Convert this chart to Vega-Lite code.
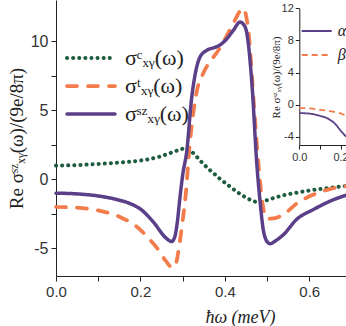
{
  "$schema": "https://vega.github.io/schema/vega-lite/v6.json",
  "width": 290,
  "height": 276,
  "autosize": "none",
  "padding": {"left": 56, "top": 0, "right": 0, "bottom": 50},
  "background": "white",
  "config": {
    "view": {"stroke": null},
    "axis": {"grid": false, "domainColor": "#222", "tickColor": "#222", "labelColor": "#333", "labelFont": "Liberation Sans", "titleColor": "#222", "titleFontWeight": "normal", "titleFont": "Liberation Serif"}
  },
  "datasets": {
    "main": [
      {"x": 0, "y": 1.0, "s": "σᶜₓᵧ(ω)"}, {"x": 0.05, "y": 1.04, "s": "σᶜₓᵧ(ω)"}, {"x": 0.1, "y": 1.12, "s": "σᶜₓᵧ(ω)"}, {"x": 0.15, "y": 1.22, "s": "σᶜₓᵧ(ω)"}, {"x": 0.2, "y": 1.37, "s": "σᶜₓᵧ(ω)"}, {"x": 0.24, "y": 1.6, "s": "σᶜₓᵧ(ω)"}, {"x": 0.27, "y": 1.9, "s": "σᶜₓᵧ(ω)"}, {"x": 0.29, "y": 2.12, "s": "σᶜₓᵧ(ω)"}, {"x": 0.305, "y": 2.24, "s": "σᶜₓᵧ(ω)"}, {"x": 0.318, "y": 2.1, "s": "σᶜₓᵧ(ω)"}, {"x": 0.33, "y": 1.75, "s": "σᶜₓᵧ(ω)"}, {"x": 0.345, "y": 1.25, "s": "σᶜₓᵧ(ω)"}, {"x": 0.36, "y": 0.8, "s": "σᶜₓᵧ(ω)"}, {"x": 0.375, "y": 0.4, "s": "σᶜₓᵧ(ω)"}, {"x": 0.39, "y": 0.0, "s": "σᶜₓᵧ(ω)"}, {"x": 0.405, "y": -0.35, "s": "σᶜₓᵧ(ω)"}, {"x": 0.42, "y": -0.7, "s": "σᶜₓᵧ(ω)"}, {"x": 0.436, "y": -1.05, "s": "σᶜₓᵧ(ω)"}, {"x": 0.455, "y": -1.4, "s": "σᶜₓᵧ(ω)"}, {"x": 0.47, "y": -1.6, "s": "σᶜₓᵧ(ω)"}, {"x": 0.48, "y": -1.66, "s": "σᶜₓᵧ(ω)"}, {"x": 0.49, "y": -1.6, "s": "σᶜₓᵧ(ω)"}, {"x": 0.505, "y": -1.45, "s": "σᶜₓᵧ(ω)"}, {"x": 0.53, "y": -1.22, "s": "σᶜₓᵧ(ω)"}, {"x": 0.57, "y": -0.96, "s": "σᶜₓᵧ(ω)"}, {"x": 0.61, "y": -0.76, "s": "σᶜₓᵧ(ω)"}, {"x": 0.65, "y": -0.6, "s": "σᶜₓᵧ(ω)"}, {"x": 0.687, "y": -0.48, "s": "σᶜₓᵧ(ω)"},
      {"x": 0, "y": -2.0, "s": "σᵗₓᵧ(ω)"}, {"x": 0.05, "y": -2.05, "s": "σᵗₓᵧ(ω)"}, {"x": 0.1, "y": -2.25, "s": "σᵗₓᵧ(ω)"}, {"x": 0.15, "y": -2.7, "s": "σᵗₓᵧ(ω)"}, {"x": 0.17, "y": -3.0, "s": "σᵗₓᵧ(ω)"}, {"x": 0.2, "y": -3.65, "s": "σᵗₓᵧ(ω)"}, {"x": 0.22, "y": -4.3, "s": "σᵗₓᵧ(ω)"}, {"x": 0.24, "y": -5.0, "s": "σᵗₓᵧ(ω)"}, {"x": 0.26, "y": -5.9, "s": "σᵗₓᵧ(ω)"}, {"x": 0.276, "y": -6.4, "s": "σᵗₓᵧ(ω)"}, {"x": 0.284, "y": -6.1, "s": "σᵗₓᵧ(ω)"}, {"x": 0.292, "y": -4.8, "s": "σᵗₓᵧ(ω)"}, {"x": 0.3, "y": -3.0, "s": "σᵗₓᵧ(ω)"}, {"x": 0.306, "y": -1.5, "s": "σᵗₓᵧ(ω)"}, {"x": 0.318, "y": 2.9, "s": "σᵗₓᵧ(ω)"}, {"x": 0.333, "y": 6.3, "s": "σᵗₓᵧ(ω)"}, {"x": 0.349, "y": 7.7, "s": "σᵗₓᵧ(ω)"}, {"x": 0.373, "y": 8.86, "s": "σᵗₓᵧ(ω)"}, {"x": 0.39, "y": 9.6, "s": "σᵗₓᵧ(ω)"}, {"x": 0.405, "y": 10.44, "s": "σᵗₓᵧ(ω)"}, {"x": 0.42, "y": 11.3, "s": "σᵗₓᵧ(ω)"}, {"x": 0.436, "y": 12.2, "s": "σᵗₓᵧ(ω)"}, {"x": 0.443, "y": 12.4, "s": "σᵗₓᵧ(ω)"}, {"x": 0.45, "y": 11.9, "s": "σᵗₓᵧ(ω)"}, {"x": 0.456, "y": 10.7, "s": "σᵗₓᵧ(ω)"}, {"x": 0.468, "y": 5.8, "s": "σᵗₓᵧ(ω)"}, {"x": 0.48, "y": 0.97, "s": "σᵗₓᵧ(ω)"}, {"x": 0.49, "y": -1.9, "s": "σᵗₓᵧ(ω)"}, {"x": 0.5, "y": -2.85, "s": "σᵗₓᵧ(ω)"}, {"x": 0.51, "y": -2.85, "s": "σᵗₓᵧ(ω)"}, {"x": 0.539, "y": -2.55, "s": "σᵗₓᵧ(ω)"}, {"x": 0.57, "y": -1.75, "s": "σᵗₓᵧ(ω)"}, {"x": 0.61, "y": -1.1, "s": "σᵗₓᵧ(ω)"}, {"x": 0.649, "y": -0.7, "s": "σᵗₓᵧ(ω)"}, {"x": 0.687, "y": -0.49, "s": "σᵗₓᵧ(ω)"},
      {"x": 0, "y": -1.0, "s": "σˢᶻₓᵧ(ω)"}, {"x": 0.05, "y": -1.05, "s": "σˢᶻₓᵧ(ω)"}, {"x": 0.1, "y": -1.2, "s": "σˢᶻₓᵧ(ω)"}, {"x": 0.144, "y": -1.46, "s": "σˢᶻₓᵧ(ω)"}, {"x": 0.175, "y": -1.75, "s": "σˢᶻₓᵧ(ω)"}, {"x": 0.2, "y": -2.15, "s": "σˢᶻₓᵧ(ω)"}, {"x": 0.231, "y": -3.1, "s": "σˢᶻₓᵧ(ω)"}, {"x": 0.259, "y": -4.2, "s": "σˢᶻₓᵧ(ω)"}, {"x": 0.274, "y": -4.5, "s": "σˢᶻₓᵧ(ω)"}, {"x": 0.281, "y": -4.2, "s": "σˢᶻₓᵧ(ω)"}, {"x": 0.287, "y": -3.2, "s": "σˢᶻₓᵧ(ω)"}, {"x": 0.293, "y": -1.5, "s": "σˢᶻₓᵧ(ω)"}, {"x": 0.3, "y": 0.3, "s": "σˢᶻₓᵧ(ω)"}, {"x": 0.31, "y": 2.1, "s": "σˢᶻₓᵧ(ω)"}, {"x": 0.321, "y": 5.8, "s": "σˢᶻₓᵧ(ω)"}, {"x": 0.329, "y": 7.5, "s": "σˢᶻₓᵧ(ω)"}, {"x": 0.341, "y": 8.86, "s": "σˢᶻₓᵧ(ω)"}, {"x": 0.357, "y": 9.35, "s": "σˢᶻₓᵧ(ω)"}, {"x": 0.375, "y": 9.55, "s": "σˢᶻₓᵧ(ω)"}, {"x": 0.389, "y": 9.75, "s": "σˢᶻₓᵧ(ω)"}, {"x": 0.405, "y": 10.2, "s": "σˢᶻₓᵧ(ω)"}, {"x": 0.42, "y": 10.8, "s": "σˢᶻₓᵧ(ω)"}, {"x": 0.436, "y": 11.4, "s": "σˢᶻₓᵧ(ω)"}, {"x": 0.445, "y": 11.2, "s": "σˢᶻₓᵧ(ω)"}, {"x": 0.452, "y": 10.6, "s": "σˢᶻₓᵧ(ω)"}, {"x": 0.464, "y": 7.0, "s": "σˢᶻₓᵧ(ω)"}, {"x": 0.476, "y": 1.0, "s": "σˢᶻₓᵧ(ω)"}, {"x": 0.483, "y": -1.46, "s": "σˢᶻₓᵧ(ω)"}, {"x": 0.491, "y": -3.64, "s": "σˢᶻₓᵧ(ω)"}, {"x": 0.498, "y": -4.4, "s": "σˢᶻₓᵧ(ω)"}, {"x": 0.507, "y": -4.66, "s": "σˢᶻₓᵧ(ω)"}, {"x": 0.52, "y": -4.45, "s": "σˢᶻₓᵧ(ω)"}, {"x": 0.539, "y": -4.0, "s": "σˢᶻₓᵧ(ω)"}, {"x": 0.57, "y": -2.9, "s": "σˢᶻₓᵧ(ω)"}, {"x": 0.61, "y": -2.18, "s": "σˢᶻₓᵧ(ω)"}, {"x": 0.649, "y": -1.58, "s": "σˢᶻₓᵧ(ω)"}, {"x": 0.687, "y": -1.15, "s": "σˢᶻₓᵧ(ω)"}
    ],
    "inset": [
      {"x": 0, "y": -1.03, "s": "α"}, {"x": 0.05, "y": -1.1, "s": "α"}, {"x": 0.1, "y": -1.36, "s": "α"}, {"x": 0.125, "y": -1.55, "s": "α"}, {"x": 0.148, "y": -1.86, "s": "α"}, {"x": 0.175, "y": -2.4, "s": "α"}, {"x": 0.197, "y": -3.1, "s": "α"}, {"x": 0.2265, "y": -3.95, "s": "α"},
      {"x": 0, "y": -0.41, "s": "β"}, {"x": 0.05, "y": -0.45, "s": "β"}, {"x": 0.1, "y": -0.62, "s": "β"}, {"x": 0.15, "y": -0.8, "s": "β"}, {"x": 0.197, "y": -1.03, "s": "β"}, {"x": 0.2265, "y": -1.36, "s": "β"}
    ]
  },
  "layer": [
    {
      "data": {"name": "main"},
      "mark": {"type": "line", "strokeCap": "round", "interpolate": "monotone"},
      "encoding": {
        "x": {"field": "x", "type": "quantitative", "scale": {"domain": [0, 0.687], "nice": false, "zero": false},
          "axis": {"values": [0, 0.1, 0.2, 0.3, 0.4, 0.5, 0.6], "labelExpr": "round(datum.value*10)%2==0 ? format(datum.value,'.1f') : ''", "labelFontSize": 15, "labelPadding": 3, "tickSize": 5, "labelFlush": false,
            "title": "ħω (meV)", "titleFontStyle": "italic", "titleFontSize": 18, "titleX": 184, "titleY": 46, "titleBaseline": "alphabetic"}},
        "y": {"field": "y", "type": "quantitative", "scale": {"domain": [-7, 13], "nice": false, "zero": false},
          "axis": {"values": [-5, -2.5, 0, 2.5, 5, 7.5, 10], "labelExpr": "datum.value%5==0 ? ''+datum.value : ''", "labelFontSize": 16, "labelPadding": 3, "tickSize": 5, "labelFlush": false,
            "title": "Re σˢᶻₓᵧ(ω)/(9e/8π)", "titleFontSize": 19, "titleX": -40, "titleY": 138, "titleBaseline": "middle"}},
        "color": {"field": "s", "type": "nominal", "sort": null,
          "scale": {"domain": ["σᶜₓᵧ(ω)", "σᵗₓᵧ(ω)", "σˢᶻₓᵧ(ω)"], "range": ["#1d5c3e", "#f37c4c", "#5b4089"]},
          "legend": {"orient": "none", "legendX": 21, "legendY": 44, "title": null, "symbolType": "M-2,0H2", "symbolSize": 576, "labelFont": "Liberation Serif", "labelFontSize": 22, "labelColor": "#222", "labelOffset": 20, "rowPadding": 3,
            "encode": {"symbols": {"update": {"strokeCap": {"value": "round"}, "fill": {"value": "transparent"}}}}}},
        "strokeDash": {"field": "s", "type": "nominal", "sort": null,
          "scale": {"domain": ["σᶜₓᵧ(ω)", "σᵗₓᵧ(ω)", "σˢᶻₓᵧ(ω)"], "range": [[0.1, 6], [10, 11], [1, 0]]},
          "legend": {"orient": "none", "legendX": 21, "legendY": 44, "title": null, "symbolType": "M-2,0H2", "symbolSize": 576, "labelFont": "Liberation Serif", "labelFontSize": 22, "labelColor": "#222", "labelOffset": 20, "rowPadding": 3,
            "encode": {"symbols": {"update": {"strokeCap": {"value": "round"}, "fill": {"value": "transparent"}}}}}},
        "strokeWidth": {"field": "s", "type": "nominal", "sort": null,
          "scale": {"domain": ["σᶜₓᵧ(ω)", "σᵗₓᵧ(ω)", "σˢᶻₓᵧ(ω)"], "range": [4, 3.5, 3.5]},
          "legend": {"orient": "none", "legendX": 21, "legendY": 44, "title": null, "symbolType": "M-2,0H2", "symbolSize": 576, "labelFont": "Liberation Serif", "labelFontSize": 22, "labelColor": "#222", "labelOffset": 20, "rowPadding": 3,
            "encode": {"symbols": {"update": {"strokeCap": {"value": "round"}, "fill": {"value": "transparent"}}}}}}
      }
    },
    {
      "data": {"name": "inset"},
      "mark": {"type": "line", "strokeWidth": 1.8, "interpolate": "monotone"},
      "encoding": {
        "x": {"field": "x", "type": "quantitative", "scale": {"domain": [0, 0.2265], "range": [243.3, 290], "nice": false, "zero": false},
          "axis": {"orient": "bottom", "offset": -131, "values": [0, 0.1, 0.2], "labelExpr": "round(datum.value*10)%2==0 ? format(datum.value,'.1f') : ''", "labelFontSize": 11, "labelPadding": 2, "tickSize": 4, "labelFlush": false, "title": null}},
        "y": {"field": "y", "type": "quantitative", "scale": {"domain": [-5, 12], "range": [145, 8.3], "nice": false, "zero": false},
          "axis": {"orient": "left", "offset": -243.3, "values": [-4, 0, 4, 8, 12], "labelExpr": "''+datum.value", "labelFontSize": 11, "labelPadding": 2, "tickSize": 4, "labelFlush": false,
            "title": "Re σˢᶻₓᵧ(ω)/(9e/8π)", "titleFontSize": 11, "titleX": -23, "titleY": 77, "titleBaseline": "middle"}},
        "color": {"field": "s", "type": "nominal", "sort": null,
          "scale": {"domain": ["α", "β"], "range": ["#5b4089", "#f37c4c"]},
          "legend": {"orient": "none", "legendX": 244.7, "legendY": 15, "title": null, "symbolType": "stroke", "symbolSize": 900, "symbolStrokeWidth": 1.8, "labelFont": "Liberation Serif", "labelFontStyle": "italic", "labelFontSize": 16, "labelColor": "#222", "labelOffset": 5, "rowPadding": 0}},
        "strokeDash": {"field": "s", "type": "nominal", "sort": null,
          "scale": {"domain": ["α", "β"], "range": [[1, 0], [6, 4]]},
          "legend": {"orient": "none", "legendX": 244.7, "legendY": 15, "title": null, "symbolType": "stroke", "symbolSize": 900, "symbolStrokeWidth": 1.8, "labelFont": "Liberation Serif", "labelFontStyle": "italic", "labelFontSize": 16, "labelColor": "#222", "labelOffset": 5, "rowPadding": 0}}
      }
    }
  ],
  "resolve": {
    "scale": {"x": "independent", "y": "independent", "color": "independent", "strokeDash": "independent", "strokeWidth": "independent"},
    "legend": {"color": "independent", "strokeDash": "independent", "strokeWidth": "independent"},
    "axis": {"x": "independent", "y": "independent"}
  }
}
